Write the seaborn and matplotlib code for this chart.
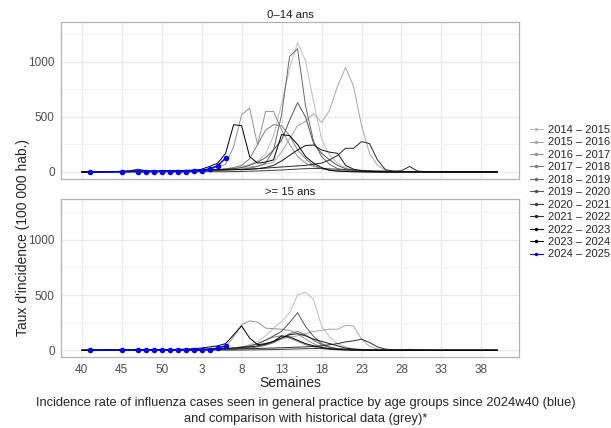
import pandas as pd
import matplotlib.pyplot as plt
import seaborn as sns
from matplotlib.lines import Line2D
from matplotlib.ticker import MultipleLocator

# --- données ---
semaines = list(range(40, 53)) + list(range(1, 41))  # positions dans la saison
saisons = ["2014 – 2015", "2015 – 2016", "2016 – 2017", "2017 – 2018", "2018 – 2019",
           "2019 – 2020", "2020 – 2021", "2021 – 2022", "2022 – 2023", "2023 – 2024"]
saison_courante = "2024 – 2025"
groupes = ["0–14 ans", ">= 15 ans"]

Z11 = [0] * 11

# 0-14 ans
t0_2014 = [0, 0, 0, 2, 3, 3, 5, 6, 5, 4, 5, 6, 8, 10, 12, 14, 18, 22, 28, 35,
           50, 70, 100, 160, 330, 620, 940, 1175, 1010, 640, 300,
           150, 80, 40, 20, 10, 6, 4, 2, 1, 1, 0] + Z11
t0_2015 = [0, 0, 1, 2, 2, 3, 4, 5, 4, 4, 5, 5, 6, 8, 10, 12, 15, 18, 22, 28,
           35, 45, 55, 70, 90, 180, 300, 420, 460, 530, 450,
           560, 780, 950, 780, 420, 170, 60, 15, 5, 2, 1] + Z11
t0_2016 = [0, 1, 2, 3, 4, 5, 8, 12, 10, 8, 8, 10, 12, 15, 18, 22, 30, 45, 70, 230,
           520, 580, 245, 550, 550, 380, 250, 140, 80, 50, 30,
           20, 12, 8, 5, 3, 2, 1, 0, 0, 0, 0] + Z11
t0_2017 = [0, 0, 1, 1, 2, 2, 3, 4, 3, 3, 4, 5, 6, 8, 10, 12, 15, 20, 28, 40,
           60, 120, 250, 380, 430, 420, 330, 200, 120, 60, 30,
           15, 8, 4, 2, 1, 0, 0, 0, 0, 0, 0] + Z11
t0_2018 = [0, 0, 1, 1, 2, 3, 4, 5, 5, 4, 4, 5, 6, 8, 9, 10, 12, 14, 16, 20,
           25, 35, 50, 80, 200, 520, 1050, 1120, 600, 280, 140,
           70, 30, 15, 8, 4, 2, 1, 0, 0, 0, 0] + Z11
t0_2019 = [0, 0, 1, 2, 2, 3, 4, 5, 5, 5, 6, 7, 8, 10, 12, 14, 16, 20, 25, 30,
           40, 60, 90, 130, 200, 290, 470, 630, 500, 260, 170,
           110, 60, 30, 15, 8, 4, 2, 1, 0, 0, 0] + Z11
t0_2020 = [0, 0, 1, 2, 3, 4, 5, 6, 5, 4, 3, 3, 2, 2, 2, 2, 2, 2, 2, 3,
           5, 7, 9, 12, 15, 18, 22, 26, 30, 32, 30,
           28, 25, 22, 18, 15, 12, 10, 8, 6, 5, 4,
           3, 3, 2, 2, 2, 1, 1, 1, 1, 1, 1]
t0_2021 = [0, 0, 1, 2, 3, 5, 10, 25, 12, 6, 8, 10, 10, 12, 12, 14, 15, 16, 18, 20,
           22, 25, 30, 35, 40, 45, 50, 55, 60, 70, 80,
           110, 150, 215, 215, 276, 258, 109, 20, 8, 10, 50,
           8, 3, 1, 0, 0, 0, 0, 0, 0, 0, 0]
t0_2022 = [0, 0, 1, 2, 3, 4, 5, 6, 6, 6, 8, 10, 12, 14, 16, 18, 20, 22, 24, 25,
           20, 25, 30, 40, 60, 100, 150, 200, 240, 245, 200,
           180, 170, 60, 25, 10, 5, 2, 1, 0, 0, 0] + Z11
t0_2023 = [0, 0, 2, 3, 4, 5, 8, 10, 8, 6, 8, 10, 15, 5, 10, 25, 50, 80, 170, 430,
           420, 140, 80, 90, 110, 340, 330, 250, 140, 80, 40,
           15, 8, 4, 2, 1, 0, 0, 0, 0, 0, 0] + Z11

# >= 15 ans
t15_2014 = [0, 0, 0, 1, 1, 2, 2, 3, 3, 2, 2, 3, 4, 5, 6, 8, 10, 12, 15, 20,
            30, 50, 80, 130, 200, 260, 340, 500, 525, 460, 220,
            120, 60, 30, 15, 8, 4, 2, 1, 0, 0, 0] + Z11
t15_2015 = [0, 0, 0, 1, 1, 1, 2, 2, 2, 2, 2, 3, 3, 4, 5, 6, 8, 10, 12, 15,
            20, 25, 35, 50, 70, 100, 120, 130, 150, 170, 180,
            190, 190, 225, 220, 100, 35, 10, 3, 1, 0, 0] + Z11
t15_2016 = [0, 0, 1, 1, 2, 2, 3, 4, 4, 3, 3, 4, 5, 6, 8, 10, 14, 20, 30, 120,
            230, 265, 255, 200, 195, 190, 180, 150, 100, 60, 30,
            15, 8, 4, 2, 1, 0, 0, 0, 0, 0, 0] + Z11
t15_2017 = [0, 0, 0, 1, 1, 1, 2, 2, 2, 2, 2, 2, 3, 4, 5, 6, 8, 10, 12, 16,
            22, 35, 60, 90, 120, 130, 110, 80, 50, 30, 15,
            8, 4, 2, 1, 0, 0, 0, 0, 0, 0, 0] + Z11
t15_2018 = [0, 0, 0, 1, 1, 1, 2, 2, 2, 2, 2, 3, 3, 4, 5, 6, 7, 8, 10, 12,
            15, 20, 30, 45, 70, 110, 150, 170, 140, 90, 50,
            25, 12, 6, 3, 1, 0, 0, 0, 0, 0, 0] + Z11
t15_2019 = [0, 0, 1, 1, 2, 2, 3, 3, 3, 3, 4, 4, 5, 6, 7, 8, 10, 12, 15, 20,
            30, 40, 60, 90, 130, 170, 250, 340, 215, 125, 60,
            30, 15, 8, 4, 2, 1, 0, 0, 0, 0, 0] + Z11
t15_2020 = [0, 0, 1, 1, 2, 2, 2, 3, 2, 2, 2, 1, 1, 1, 1, 1, 1, 1, 1, 1,
            2, 3, 4, 5, 6, 8, 10, 12, 14, 15, 15,
            14, 12, 10, 8, 6, 5, 4, 3, 2, 2, 1,
            1, 1, 1, 0, 0, 0, 0, 0, 0, 0, 0]
t15_2021 = [0, 0, 1, 1, 2, 3, 4, 8, 5, 3, 3, 4, 5, 6, 6, 7, 8, 8, 9, 10,
            12, 14, 16, 18, 20, 22, 25, 28, 30, 35, 40,
            50, 60, 75, 85, 100, 70, 30, 10, 4, 3, 8,
            3, 1, 0, 0, 0, 0, 0, 0, 0, 0, 0]
t15_2022 = [0, 0, 0, 1, 1, 2, 2, 3, 3, 3, 4, 4, 5, 6, 7, 8, 10, 12, 15, 20,
            25, 30, 40, 55, 80, 110, 140, 150, 130, 100, 80,
            60, 40, 20, 10, 5, 2, 1, 0, 0, 0, 0] + Z11
t15_2023 = [0, 0, 1, 1, 2, 2, 3, 4, 3, 3, 4, 5, 8, 10, 15, 20, 30, 40, 60, 140,
            220, 110, 50, 60, 80, 130, 120, 90, 60, 40, 25,
            12, 6, 3, 1, 0, 0, 0, 0, 0, 0, 0] + Z11

# saison en cours (2024 - 2025)
cour_semaines = [41, 45, 47, 48, 49, 50, 51, 52, 1, 2, 3, 4, 5, 6]
cour_0_14 = [0, 0, 2, 1, 3, 3, 4, 2, 3, 5, 12, 27, 57, 125]
cour_15 = [0, 0, 0, 0, 1, 1, 1, 1, 1, 2, 2, 5, 20, 40]

historique = {
    groupes[0]: [t0_2014, t0_2015, t0_2016, t0_2017, t0_2018,
                 t0_2019, t0_2020, t0_2021, t0_2022, t0_2023],
    groupes[1]: [t15_2014, t15_2015, t15_2016, t15_2017, t15_2018,
                 t15_2019, t15_2020, t15_2021, t15_2022, t15_2023],
}
courant = {groupes[0]: cour_0_14, groupes[1]: cour_15}

gris = ["#BDBDBD", "#A8A8A8", "#939393", "#7E7E7E", "#696969",
        "#545454", "#3F3F3F", "#2A2A2A", "#151515", "#000000"]
bleu = "#0000FF"

lignes = []
for g in groupes:
    for s, serie in zip(saisons, historique[g]):
        for pos, v in enumerate(serie):
            lignes.append({"groupe": g, "saison": s, "pos": pos, "taux": v})
df = pd.DataFrame(lignes)

df_cour = pd.DataFrame([
    {"groupe": g, "pos": semaines.index(w), "taux": v}
    for g in groupes for w, v in zip(cour_semaines, courant[g])
])

# --- graphique ---
sns.set_style("white")
plt.rcParams["font.family"] = ["Liberation Sans", "DejaVu Sans"]

fig = plt.figure(figsize=(6.11, 4.28), dpi=100)
ax_top = fig.add_axes([0.0998, 0.5818, 0.7496, 0.3675])
ax_bot = fig.add_axes([0.0998, 0.1652, 0.7496, 0.3690])

for ax, g in zip([ax_top, ax_bot], groupes):
    ax.set_axisbelow(True)
    sns.lineplot(data=df[df.groupe == g], x="pos", y="taux", hue="saison",
                 hue_order=saisons, palette=gris, estimator=None,
                 linewidth=0.7, legend=False, ax=ax)
    sns.lineplot(data=df_cour[df_cour.groupe == g], x="pos", y="taux",
                 color=bleu, marker="o", markersize=4, markeredgewidth=0,
                 linewidth=1.1, estimator=None, ax=ax)
    ax.set_xlim(-2.6, 54.7)
    ax.set_ylim(-64, 1366)
    ax.set_xticks(range(0, 52, 5))
    ax.set_yticks([0, 500, 1000])
    ax.yaxis.set_minor_locator(MultipleLocator(250))
    ax.grid(True, which="major", color="#EBEBEB", linewidth=1.0)
    ax.grid(True, which="minor", axis="y", color="#F3F3F3", linewidth=0.6)
    for sp in ax.spines.values():
        sp.set_color("#B3B3B3")
        sp.set_linewidth(0.9)
    ax.tick_params(axis="both", which="major", length=2.5, width=0.6,
                   color="#B3B3B3", labelsize=8.5, labelcolor="#4D4D4D", pad=2)
    ax.tick_params(axis="y", which="minor", length=0)
    ax.set_xlabel("")
    ax.set_ylabel("")
    ax.set_title(g, fontsize=8.2, color="#1A1A1A", pad=3)

ax_top.set_xticklabels([])
ax_top.tick_params(axis="x", length=0)
ax_bot.set_xticklabels([str(w) for w in semaines[0:52:5]])
ax_bot.set_xlabel("Semaines", fontsize=10, labelpad=0)

fig.text(0.038, 0.445, "Taux d'incidence (100 000 hab.)", rotation=90,
         fontsize=10, ha="center", va="center")

handles = [Line2D([0], [0], color=c, lw=0.8, marker="o", markersize=2.5,
                  markeredgewidth=0) for c in gris + [bleu]]
fig.legend(handles, saisons + [saison_courante], loc="upper left",
           bbox_to_anchor=(0.868, 0.708), frameon=False, fontsize=8,
           handlelength=1.1, handletextpad=0.5, labelspacing=0.22,
           borderaxespad=0, borderpad=0)

fig.text(0.5, 0.04,
         "Incidence rate of influenza cases seen in general practice by age groups since 2024w40 (blue)\n"
         "and comparison with historical data (grey)*",
         ha="center", va="center", fontsize=9.3, linespacing=1.4)

fig.savefig("out.png", dpi=100)
